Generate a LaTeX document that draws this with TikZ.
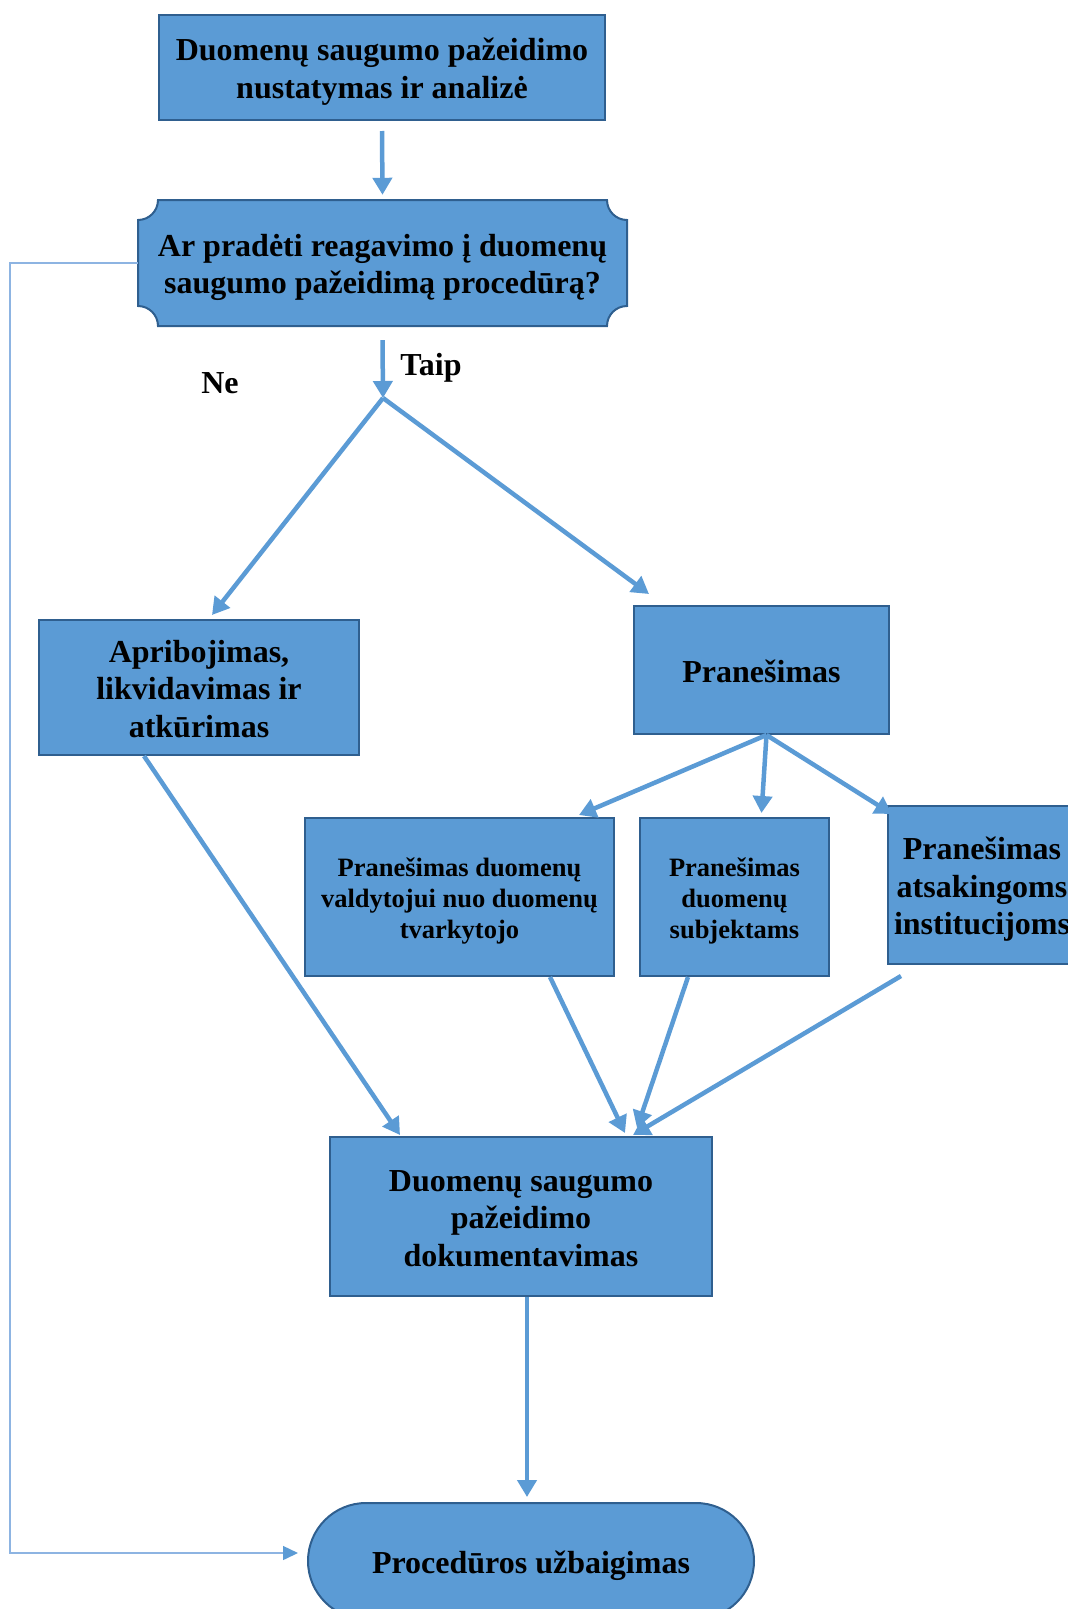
\documentclass[tikz,border=0pt]{standalone}
\usepackage{fontspec}
\setmainfont{Liberation Serif}
\usetikzlibrary{arrows.meta,calc}
\definecolor{boxfill}{HTML}{5B9BD5}
\definecolor{boxline}{HTML}{2F5F8F}
\definecolor{arrowc}{HTML}{5B9BD5}
\definecolor{thinc}{HTML}{8DB4E2}
\newcommand{\bigtxt}{\fontsize{32}{37.5}\selectfont\bfseries}
\newcommand{\smalltxt}{\fontsize{26.5}{31}\selectfont\bfseries}
\newcommand{\tl}[1]{\raisebox{-4.5pt}[\height][\depth]{\begin{tabular}{@{}c@{}}#1\end{tabular}}}
\begin{document}
\begin{tikzpicture}[x=1pt,y=1pt,
  box/.style={draw=boxline,fill=boxfill,line width=2pt,inner sep=0pt,align=center,font=\bigtxt},
  plain/.style={inner sep=0pt,align=center,font=\bigtxt},
  arr/.style={draw=arrowc,line width=4.5pt,-{Triangle[length=17pt,width=19pt]}},
  thinarr/.style={draw=thinc,line width=1.5pt,-{Triangle[length=15pt,width=14pt,fill=arrowc,color=arrowc]}}]
\useasboundingbox (0,0) rectangle (1068,-1609);
\clip (0,0) rectangle (1068,-1609);

% top box
\node[box,minimum width=446,minimum height=105] (top) at (382,-67.5)
  {\tl{Duomenų saugumo pažeidimo\\nustatymas ir analizė}};

% decision box with concave corners
\draw[draw=boxline,fill=boxfill,line width=2pt]
  (158,-200) -- (607,-200) arc[start angle=180,end angle=270,radius=20]
  -- (627,-306) arc[start angle=90,end angle=180,radius=20]
  -- (158,-326) arc[start angle=0,end angle=90,radius=20]
  -- (138,-220) arc[start angle=270,end angle=360,radius=20] -- cycle;
\node[plain,minimum width=489,minimum height=126] (dec) at (382.5,-263)
  {\tl{Ar pradėti reagavimo į duomenų\\saugumo pažeidimą procedūrą?}};

\node[plain] (taip) at (431,-363) {\tl{Taip}};
\node[plain] (ne) at (220,-381) {\tl{Ne}};
\coordinate (split) at (383,-398);

\node[box,minimum width=320,minimum height=135] (apr) at (199,-687.5)
  {\tl{Apribojimas,\\likvidavimas ir\\atkūrimas}};
\node[box,minimum width=255,minimum height=128] (pran) at (761.5,-670) {\tl{Pranešimas}};

\node[box,font=\smalltxt,minimum width=309,minimum height=158] (sub1) at (459.5,-897)
  {\tl{Pranešimas duomenų\\valdytojui nuo duomenų\\tvarkytojo}};
\node[box,font=\smalltxt,minimum width=189,minimum height=158] (sub2) at (734.5,-897)
  {\tl{Pranešimas\\duomenų\\subjektams}};
\node[box,minimum width=188,minimum height=158] (sub3) at (982,-885)
  {\tl{Pranešimas\\atsakingoms\\institucijoms}};

\node[box,minimum width=382,minimum height=159] (doc) at (521,-1216.5)
  {\tl{Duomenų saugumo\\pažeidimo\\dokumentavimas}};

\node[box,minimum width=446,minimum height=116,rounded corners=58pt] (term) at (531,-1561)
  {\tl{Procedūros užbaigimas}};

% connectors
\draw[arr] ([yshift=-10]top.south) -- ([yshift=5]dec.north);
\draw[arr] ([yshift=-14]dec.south) -- (split);
\draw[arr] (split) -- ([xshift=13,yshift=4]apr.north);
\draw[arr] (split) -- ([xshift=16,yshift=11]pran.north west);

\coordinate (pb) at ([xshift=5]pran.south);
\draw[arr] (pb) -- ([xshift=-36,yshift=2]sub1.north east);
\draw[arr] (pb) -- ([xshift=27,yshift=4]sub2.north);
\draw[arr] (pb) -- ([xshift=5,yshift=-9]sub3.north west);

\draw[arr] ([xshift=-55]apr.south) -- ([xshift=-121,yshift=1]doc.north);
\draw[arr] ([xshift=90.5]sub1.south) -- ([xshift=104,yshift=3]doc.north);
\draw[arr] ([xshift=-46.5]sub2.south) -- ([xshift=116,yshift=8]doc.north);
\draw[arr] ([xshift=14,yshift=-11]sub3.south west) -- ([xshift=112,yshift=1]doc.north);

\draw[arr] ([xshift=6]doc.south) -- ([xshift=-4,yshift=5]term.north);

\coordinate (nl) at (10,-263);
\draw[thinarr] (dec.west) -- (nl) |- ([xshift=-9,yshift=8]term.west);
\end{tikzpicture}
\end{document}
